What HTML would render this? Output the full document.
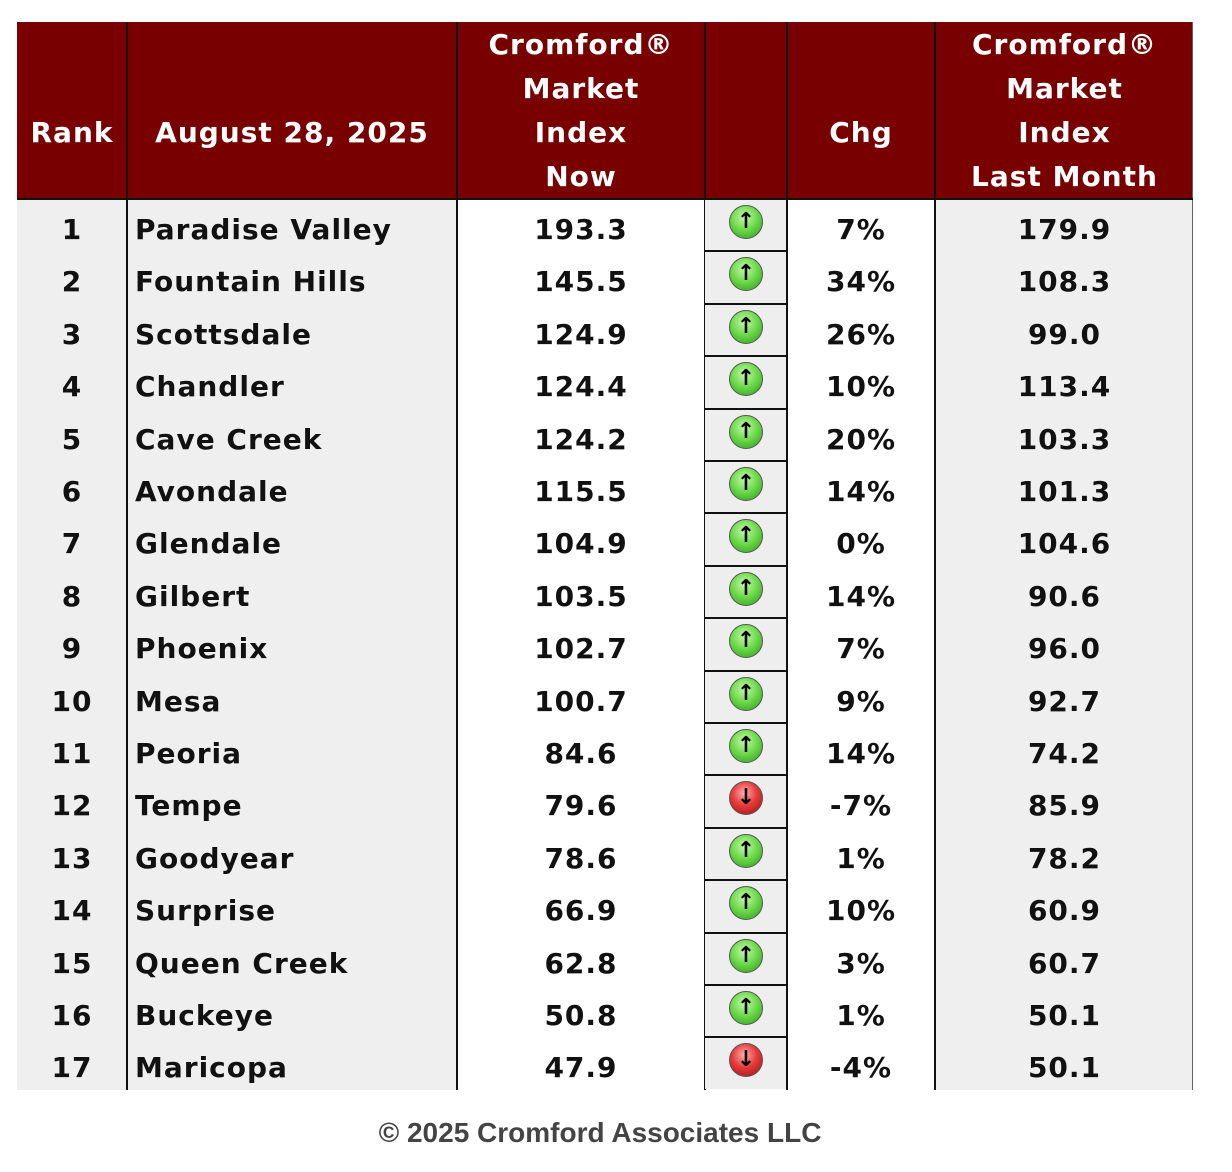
<!DOCTYPE html>
<html><head><meta charset="utf-8">
<style>
html,body{margin:0;padding:0;background:#fff;}
#root{position:relative;width:1232px;height:1172px;overflow:hidden;font-family:"DejaVu Sans","Liberation Sans",sans-serif;}
.abs{position:absolute;}
.hd{color:#fff;font-weight:bold;font-size:28px;letter-spacing:1px;text-align:center;line-height:44px;}
.cell{position:absolute;font-weight:bold;font-size:28px;letter-spacing:1px;color:#111;line-height:52px;white-space:nowrap;}
.vl{position:absolute;background:#111;width:2px;}
</style></head>
<body>
<div id="root">
  <div class="abs" style="left:17px;top:22px;width:1176px;height:177px;background:#780000;"></div>
  <div class="abs" style="left:17px;top:199px;width:440px;height:891px;background:#efefef;"></div>
  <div class="abs" style="left:936px;top:199px;width:257px;height:891px;background:#efefef;"></div>
  <div class="abs" style="left:1192px;top:22px;width:1px;height:1068px;background:#666;"></div>
  <div class="abs" style="left:17px;top:198px;width:1176px;height:2px;background:#111;"></div>

  <div class="abs hd" style="left:17px;top:111px;width:110px;">Rank</div>
  <div class="abs hd" style="left:127px;top:111px;width:330px;">August 28, 2025</div>
  <div class="abs hd" style="left:457px;top:23px;width:248px;">Cromford®<br>Market<br>Index<br>Now</div>
  <div class="abs hd" style="left:787px;top:111px;width:148px;">Chg</div>
  <div class="abs hd" style="left:936px;top:23px;width:257px;">Cromford®<br>Market<br>Index<br>Last Month</div>

  <div class="vl" style="left:126px;top:22px;height:1068px;"></div>
  <div class="vl" style="left:456px;top:22px;height:1068px;"></div>
  <div class="vl" style="left:704px;top:22px;height:1068px;"></div>
  <div class="vl" style="left:786px;top:22px;height:1068px;"></div>
  <div class="vl" style="left:934px;top:22px;height:1068px;"></div>

  <div id="rows"></div>

  <div class="abs" style="left:0;top:1117px;width:1200px;text-align:center;font-family:'Liberation Sans',sans-serif;font-weight:bold;font-size:28px;color:#444;">© 2025 Cromford Associates LLC</div>
</div>
<script>
const cities = ["Paradise Valley","Fountain Hills","Scottsdale","Chandler","Cave Creek","Avondale","Glendale","Gilbert","Phoenix","Mesa","Peoria","Tempe","Goodyear","Surprise","Queen Creek","Buckeye","Maricopa"];
const nowValues = ["193.3","145.5","124.9","124.4","124.2","115.5","104.9","103.5","102.7","100.7","84.6","79.6","78.6","66.9","62.8","50.8","47.9"];
const changes = ["7%","34%","26%","10%","20%","14%","0%","14%","7%","9%","14%","-7%","1%","10%","3%","1%","-4%"];
const lastMonth = ["179.9","108.3","99.0","113.4","103.3","101.3","104.6","90.6","96.0","92.7","74.2","85.9","78.2","60.9","60.7","50.1","50.1"];
const directions = ["up","up","up","up","up","up","up","up","up","up","up","down","up","up","up","up","down"];

const root = document.getElementById('rows');
const top0 = 200, rh = 52.4;
function add(parent, cls, text, style) {
  const d = document.createElement('div');
  d.className = cls;
  if (text !== null) d.textContent = text;
  d.style.cssText = style;
  parent.appendChild(d);
  return d;
}
cities.forEach((c, i) => {
  const y = top0 + i * rh + 4;
  const last = i === cities.length - 1;
  const r = add(root, 'cell', String(i + 1), `left:17px;top:${y}px;width:110px;text-align:center;`);
  
  
  const n = add(root, 'cell', c, `left:135px;top:${y}px;`);
  
  
  const nv = add(root, 'cell', nowValues[i], `left:457px;top:${y}px;width:248px;text-align:center;`);
  
  
  const ch = add(root, 'cell', changes[i], `left:787px;top:${y}px;width:148px;text-align:center;`);
  
  
  const lm = add(root, 'cell', lastMonth[i], `left:936px;top:${y}px;width:257px;text-align:center;`);
  
  
  const by = top0 + i * rh;
  const box = add(root, 'abs', null, `left:705px;top:${by}px;width:81px;height:${rh - 2}px;background:#eeeeee;border-bottom:${last ? 0 : 2}px solid #111;`);
  
  
  const up = directions[i] === 'up';
  const g = up ? 'radial-gradient(circle at 45% 35%,#c8f7b0 0%,#6fdc4c 45%,#2a9a1a 100%)' : 'radial-gradient(circle at 45% 35%,#ffb0b0 0%,#e83a3a 45%,#9a1010 100%)';
  const ic = add(box, 'abs', up ? '↑' : '↓', `left:24px;top:5px;width:32px;height:32px;border-radius:50%;background:${g};border:1px solid #555;color:#000;font-weight:bold;font-size:22px;line-height:32px;text-align:center;`);
  
  
});
</script>
</body></html>
